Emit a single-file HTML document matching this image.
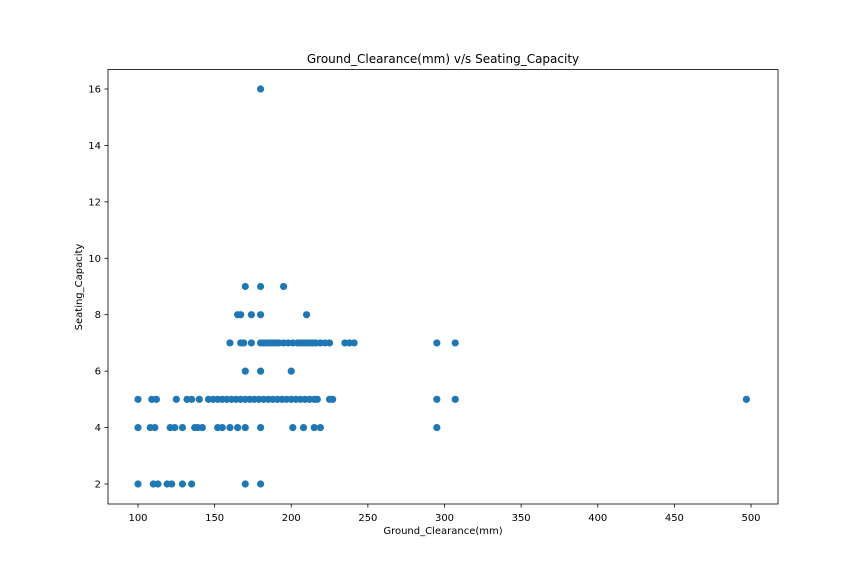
<!DOCTYPE html>
<html><head><meta charset="utf-8">
<style>
body{margin:0;background:#fff;}
svg{display:block;font-family:"DejaVu Sans","Liberation Sans",sans-serif;}
</style></head>
<body>
<svg id="chart" width="864" height="576" viewBox="0 0 864 576" xmlns="http://www.w3.org/2000/svg">
<rect width="864" height="576" fill="#fff"/>
<g id="points"></g>
<g id="axes"></g>
<text x="443" y="63" font-size="12" text-anchor="middle">Ground_Clearance(mm) v/s Seating_Capacity</text>
<text x="443" y="534" font-size="10" text-anchor="middle">Ground_Clearance(mm)</text>
<text x="82" y="287" font-size="10" text-anchor="middle" transform="rotate(-90 82 287)">Seating_Capacity</text>
</svg>
<script>
const clearance = [
 180,
 170,180,195,
 165,167,174,180,210,
 160,167,169,174,180,182,184,186,188,190,192,195,198,201,204,206,208,210,212,214,216,219,222,225,235,238,241,295,307,
 170,180,200,
 100,109,112,125,132,135,140,146,149,152,155,158,161,164,167,170,173,176,179,182,185,188,191,194,197,200,203,206,209,212,215,217,225,227,295,307,497,
 100,108,111,121,124,129,137,139,142,152,155,160,165,170,180,201,208,215,219,295,
 100,110,113,119,122,129,135,170,180
];
const seats = [
 16,
 9,9,9,
 8,8,8,8,8,
 7,7,7,7,7,7,7,7,7,7,7,7,7,7,7,7,7,7,7,7,7,7,7,7,7,7,7,7,7,
 6,6,6,
 5,5,5,5,5,5,5,5,5,5,5,5,5,5,5,5,5,5,5,5,5,5,5,5,5,5,5,5,5,5,5,5,5,5,5,5,5,
 4,4,4,4,4,4,4,4,4,4,4,4,4,4,4,4,4,4,4,4,
 2,2,2,2,2,2,2,2,2
];
const xTicks = [100,150,200,250,300,350,400,450,500];
const yTicks = [2,4,6,8,10,12,14,16];

const L=108,R=778,T=69.5,B=504;
const xs = v => 138 + (v-100)*(613/400);
const ys = v => 484 - (v-2)*(395/14);
const NS="http://www.w3.org/2000/svg";
const pts=document.getElementById('points');
for(let i=0;i<clearance.length;i++){
  const c=document.createElementNS(NS,'circle');
  c.setAttribute('cx',xs(clearance[i]));c.setAttribute('cy',ys(seats[i]));
  c.setAttribute('r',3.6);c.setAttribute('fill','#1f77b4');
  
  
  pts.appendChild(c);
}
const ax=document.getElementById('axes');
const frame=document.createElementNS(NS,'rect');
frame.setAttribute('x',L);frame.setAttribute('y',T);frame.setAttribute('width',R-L);frame.setAttribute('height',B-T);
frame.setAttribute('fill','none');frame.setAttribute('stroke','#000');frame.setAttribute('stroke-width','0.8');


ax.appendChild(frame);
xTicks.forEach(t=>{
  const x=xs(t);
  const l=document.createElementNS(NS,'line');
  l.setAttribute('x1',x);l.setAttribute('x2',x);l.setAttribute('y1',B);l.setAttribute('y2',B+3.5);
  l.setAttribute('stroke','#000');l.setAttribute('stroke-width','0.8');
  
  
  ax.appendChild(l);
  const tx=document.createElementNS(NS,'text');
  tx.setAttribute('x',x);tx.setAttribute('y',B+17);tx.setAttribute('font-size','10');tx.setAttribute('text-anchor','middle');
  tx.textContent=t;
  
  
  ax.appendChild(tx);
});
yTicks.forEach(t=>{
  const y=ys(t);
  const l=document.createElementNS(NS,'line');
  l.setAttribute('x1',L-3.5);l.setAttribute('x2',L);l.setAttribute('y1',y);l.setAttribute('y2',y);
  l.setAttribute('stroke','#000');l.setAttribute('stroke-width','0.8');
  
  
  ax.appendChild(l);
  const tx=document.createElementNS(NS,'text');
  tx.setAttribute('x',L-7);tx.setAttribute('y',y+3.5);tx.setAttribute('font-size','10');tx.setAttribute('text-anchor','end');
  tx.textContent=t;
  
  
  ax.appendChild(tx);
});
</script>
</body></html>
